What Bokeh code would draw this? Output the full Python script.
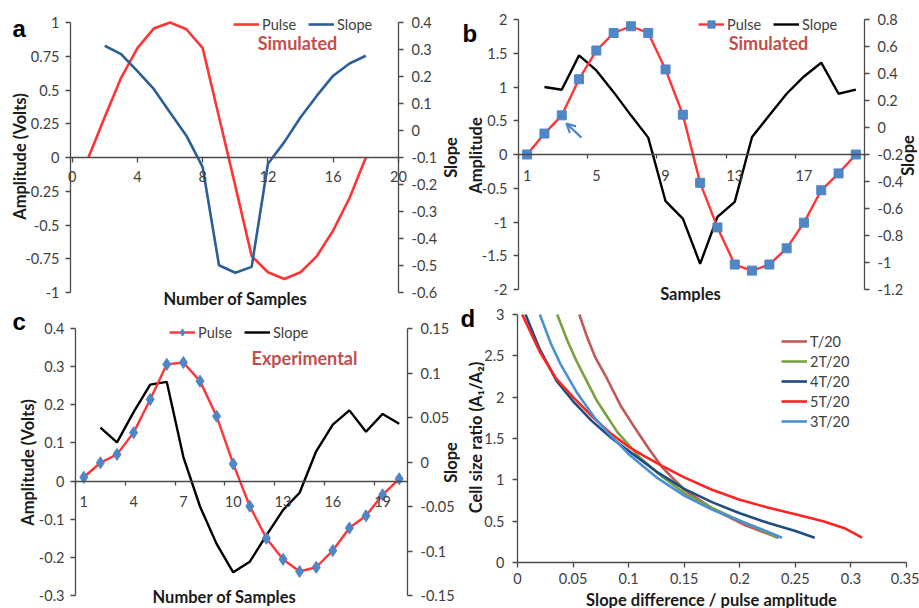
import math
from bokeh.plotting import figure
from bokeh.models import (Range1d, LinearAxis, FixedTicker, Legend, LegendItem,
                          Label, Arrow, OpenHead)
from bokeh.layouts import row, column
from bokeh.embed import file_html
from bokeh.resources import INLINE

# ---------------- data ----------------
# Panel a (simulated)
a_samples = list(range(1, 19))
a_pulse = [0, 0.30, 0.59, 0.81, 0.955, 1.0, 0.95, 0.81, 0.30, -0.21, -0.73, -0.85,
           -0.90, -0.85, -0.73, -0.54, -0.30, 0]
a_slope_samples = list(range(2, 19))
a_slope = [0.314, 0.283, 0.22, 0.154, 0.067, -0.019, -0.136, -0.499, -0.527, -0.505,
           -0.123, -0.043, 0.049, 0.129, 0.203, 0.248, 0.277]
a_xticks = [0, 4, 8, 12, 16, 20]
a_lticks = [-1, -0.75, -0.5, -0.25, 0, 0.25, 0.5, 0.75, 1]
a_llabels = ["-1", "-0.75", "-0.5", "-0.25", "0", "0.25", "0.5", "0.75", "1"]
a_rticks = [-0.6, -0.5, -0.4, -0.3, -0.2, -0.1, 0, 0.1, 0.2, 0.3, 0.4]
a_rlabels = ["-0.6", "-0.5", "-0.4", "-0.3", "-0.2", "-0.1", "0", "0.1", "0.2", "0.3", "0.4"]

# Panel b (simulated, sampled)
b_samples = list(range(1, 21))
b_pulse = [0, 0.31, 0.58, 1.115, 1.54, 1.80, 1.90, 1.80, 1.26, 0.59, -0.42, -1.08,
           -1.63, -1.72, -1.63, -1.39, -1.01, -0.53, -0.28, 0]
b_slope_samples = list(range(2, 21))
b_slope = [0.30, 0.28, 0.534, 0.423, 0.262, 0.09, -0.075, -0.546, -0.675, -1.01,
           -0.662, -0.551, -0.07, 0.09, 0.25, 0.378, 0.48, 0.25, 0.28]
b_xlabels_at = [1, 5, 9, 13, 17]
b_xmarks_at = [0.5, 4.5, 8.5, 12.5, 16.5, 20.5]
b_lticks = [-2, -1.5, -1, -0.5, 0, 0.5, 1, 1.5, 2]
b_llabels = ["-2", "-1.5", "-1", "-0.5", "0", "0.5", "1", "1.5", "2"]
b_rticks = [-1.2, -1.0, -0.8, -0.6, -0.4, -0.2, 0, 0.2, 0.4, 0.6, 0.8]
b_rlabels = ["-1.2", "-1", "-0.8", "-0.6", "-0.4", "-0.2", "0", "0.2", "0.4", "0.6", "0.8"]

# Panel c (experimental)
c_samples = list(range(1, 21))
c_pulse = [0.01, 0.048, 0.07, 0.127, 0.214, 0.306, 0.311, 0.262, 0.17, 0.045, -0.066,
           -0.15, -0.205, -0.237, -0.226, -0.182, -0.123, -0.091, -0.036, 0.006]
c_slope_samples = list(range(2, 21))
c_slope = [0.0386, 0.022, 0.056, 0.087, 0.09, 0.0056, -0.05, -0.092, -0.124, -0.112,
           -0.0825, -0.054, -0.0345, 0.012, 0.042, 0.058, 0.034, 0.054, 0.043]
c_xlabels_at = [1, 4, 7, 10, 13, 16, 19]
c_xmarks_at = [0.5, 3.5, 6.5, 9.5, 12.5, 15.5, 18.5]
c_lticks = [-0.3, -0.2, -0.1, 0, 0.1, 0.2, 0.3, 0.4]
c_llabels = ["-0.3", "-0.2", "-0.1", "0", "0.1", "0.2", "0.3", "0.4"]
c_rticks = [-0.15, -0.1, -0.05, 0, 0.05, 0.1, 0.15]
c_rlabels = ["-0.15", "-0.1", "-0.05", "0", "0.05", "0.1", "0.15"]

# Panel d (cell size ratio vs slope difference / pulse amplitude)
d_names = ["T/20", "2T/20", "4T/20", "5T/20", "3T/20"]
d_t1_x = [0.0556, 0.062, 0.070, 0.0807, 0.0927, 0.106, 0.118, 0.130, 0.150, 0.178, 0.205, 0.235]
d_t1_y = [3.0, 2.75, 2.48, 2.22, 1.90, 1.62, 1.38, 1.154, 0.88, 0.63, 0.45, 0.30]
d_t2_x = [0.0357, 0.045, 0.0537, 0.0717, 0.0897, 0.11, 0.13, 0.15, 0.175, 0.20, 0.22, 0.2337]
d_t2_y = [3.0, 2.68, 2.42, 1.95, 1.58, 1.27, 1.04, 0.84, 0.66, 0.505, 0.39, 0.30]
d_t4_x = [0.0072, 0.02, 0.035, 0.05, 0.067, 0.085, 0.10, 0.125, 0.15, 0.175, 0.20, 0.225, 0.25, 0.2674]
d_t4_y = [3.0, 2.58, 2.20, 1.95, 1.71, 1.50, 1.35, 1.10, 0.89, 0.73, 0.595, 0.48, 0.38, 0.30]
d_t5_x = [0.0042, 0.02, 0.035, 0.05, 0.07, 0.085, 0.10, 0.115, 0.13, 0.15, 0.175, 0.20,
          0.225, 0.25, 0.275, 0.295, 0.31]
d_t5_y = [3.0, 2.55, 2.22, 2.0, 1.73, 1.55, 1.40, 1.28, 1.17, 1.03, 0.88, 0.76, 0.665,
          0.585, 0.50, 0.41, 0.30]
d_t3_x = [0.0201, 0.030, 0.0387, 0.0537, 0.07, 0.0822, 0.10, 0.125, 0.15, 0.175, 0.20, 0.22, 0.238]
d_t3_y = [3.0, 2.65, 2.40, 2.05, 1.74, 1.56, 1.31, 1.03, 0.81, 0.64, 0.505, 0.40, 0.30]
d_xticks = [0, 0.05, 0.1, 0.15, 0.2, 0.25, 0.3, 0.35]
d_xlabels = ["0", "0.05", "0.1", "0.15", "0.2", "0.25", "0.3", "0.35"]
d_yticks = [0, 0.5, 1, 1.5, 2, 2.5, 3]
d_ylabels = ["0", "0.5", "1", "1.5", "2", "2.5", "3"]

# ---------------- styles ----------------
FONT = "Lato"
LETTER_FONT = "Liberation Sans"
AX = "#4a4a4a"
TXT = "#404040"
TITLE = "#1a1a1a"
RED = "#FF3535"
BLUE_A = "#2C5E98"
MARK = "#4F86C6"
SIMC = "#C0504D"
D_COLORS = ["#BF5A57", "#77A23E", "#1F4E7E", "#FF2424", "#4A90D6"]
TICK_SIZE = "14.5px"
AXT_SIZE = "16.5px"
NOTE_SIZE = "18px"


def style_axis(ax, ticks=None, labels=None, minor=None, standoff=6):
    if ticks is not None:
        if minor is not None:
            ax.ticker = FixedTicker(ticks=ticks, minor_ticks=minor)
        else:
            ax.ticker = FixedTicker(ticks=ticks)
    if labels is not None:
        ax.major_label_overrides = {t: l for t, l in zip(ticks, labels)}
    ax.axis_line_color = AX
    ax.axis_line_width = 1.3
    ax.major_tick_line_color = AX
    ax.major_tick_line_width = 1.3
    ax.major_tick_in = 0
    ax.major_tick_out = 5
    if minor is not None:
        ax.minor_tick_line_color = AX
        ax.minor_tick_line_width = 1.3
        ax.minor_tick_in = 0
        ax.minor_tick_out = 4
        ax.major_tick_out = 0
    else:
        ax.minor_tick_line_color = None
    ax.major_label_text_font = FONT
    ax.major_label_text_font_size = TICK_SIZE
    ax.major_label_text_color = TXT
    ax.major_label_standoff = standoff


def make_fig(W, H, box, xd, yd):
    """Figure whose frame fills the canvas; box = plot area (L, T, R, B) in canvas px,
    xd / yd = data values at the plot-area edges."""
    L, T, R, B = box
    sx = (R - L) / (xd[1] - xd[0])
    sy = (B - T) / (yd[1] - yd[0])
    xr = Range1d(xd[0] - L / sx, xd[1] + (W - R) / sx)
    yr = Range1d(yd[0] - (H - B) / sy, yd[1] + T / sy)
    p = figure(width=W, height=H, x_range=xr, y_range=yr, output_backend="svg",
               toolbar_location=None, min_border=0, x_axis_location=None,
               y_axis_location=None)
    p.min_border_left = 0
    p.min_border_right = 0
    p.min_border_top = 0
    p.min_border_bottom = 0
    p.grid.visible = False
    p.outline_line_color = None
    return p


def extra_range(H, box, rd):
    L, T, R, B = box
    sy = (B - T) / (rd[1] - rd[0])
    return Range1d(rd[0] - (H - B) / sy, rd[1] + T / sy)


def canvas_label(p, x, y, text, size, bold=True, color=TITLE, angle=0.0,
                 font=FONT, align="center", baseline="middle"):
    p.add_layout(Label(x=x, y=y, x_units="canvas", y_units="canvas", text=text,
                       text_font=font, text_font_size=size,
                       text_font_style="bold" if bold else "normal", text_color=color,
                       angle=angle, text_align=align, text_baseline=baseline))


def add_legend(p, items, loc, orientation="horizontal", spacing=12):
    p.add_layout(Legend(items=items, location=loc, orientation=orientation,
                        label_text_font=FONT, label_text_font_size="14.5px",
                        label_text_color=TXT, glyph_width=26, glyph_height=18,
                        label_height=18, label_standoff=3, spacing=spacing, padding=0,
                        margin=0, background_fill_alpha=0, border_line_color=None))


def add_axes(p, xd, yd, xticks, xlabels, xminor, lticks, llabels, rd=None, rticks=None,
             rlabels=None, x_at=0.0, x_standoff=8, left_standoff=6, right_standoff=8):
    xa = LinearAxis(fixed_location=x_at, bounds=(xd[0], xd[1]))
    style_axis(xa, xticks, xlabels, minor=xminor, standoff=x_standoff)
    p.add_layout(xa, "below")
    ya = LinearAxis(fixed_location=xd[0], bounds=(yd[0], yd[1]))
    style_axis(ya, lticks, llabels, standoff=left_standoff)
    p.add_layout(ya, "left")
    if rd is not None:
        ra = LinearAxis(fixed_location=xd[1], bounds=(rd[0], rd[1]), y_range_name="slope")
        style_axis(ra, rticks, rlabels, standoff=right_standoff)
        p.add_layout(ra, "right")


# ---------------- panel a ----------------
A_W, A_H, A_BOX = 460, 308, (70, 22, 398, 292)
a_xd, a_yd, a_rd = (-0.1, 20), (-1, 1), (-0.6, 0.4)
pa = make_fig(A_W, A_H, A_BOX, a_xd, a_yd)
pa.extra_y_ranges = {"slope": extra_range(A_H, A_BOX, a_rd)}
add_axes(pa, a_xd, a_yd, a_xticks, None, None, a_lticks, a_llabels, a_rd, a_rticks,
         a_rlabels, x_standoff=8)
la_p = pa.line(a_samples, a_pulse, line_color=RED, line_width=2.6)
la_s = pa.line(a_slope_samples, a_slope, line_color=BLUE_A, line_width=2.6,
               y_range_name="slope")
add_legend(pa, [LegendItem(label="Pulse", renderers=[la_p]),
                LegendItem(label="Slope", renderers=[la_s])], (233, A_H - 33))
canvas_label(pa, 12, 28, "a", "24px", font=LETTER_FONT, align="left",
             baseline="alphabetic", color="#000000")
canvas_label(pa, 297, 42, "Simulated", NOTE_SIZE, color=SIMC)
canvas_label(pa, 235, 298, "Number of Samples", AXT_SIZE)
canvas_label(pa, 19, 156, "Amplitude (Volts)", AXT_SIZE, angle=math.pi / 2)
canvas_label(pa, 450, 157, "Slope", AXT_SIZE, angle=math.pi / 2)

# ---------------- panel b ----------------
B_W, B_H, B_BOX = 459, 302, (58, 19, 404, 289)
b_xd, b_yd, b_rd = (0.5, 20.5), (-2, 2), (-1.2, 0.8)
pb = make_fig(B_W, B_H, B_BOX, b_xd, b_yd)
pb.extra_y_ranges = {"slope": extra_range(B_H, B_BOX, b_rd)}
add_axes(pb, b_xd, b_yd, b_xlabels_at, None, b_xmarks_at, b_lticks, b_llabels, b_rd,
         b_rticks, b_rlabels, x_standoff=11)
lb_s = pb.line(b_slope_samples, b_slope, line_color="#000000", line_width=2.4,
               y_range_name="slope")
lb_p = pb.line(b_samples, b_pulse, line_color=RED, line_width=2.4)
sb_p = pb.scatter(b_samples, b_pulse, marker="square", size=9, fill_color=MARK,
                  line_color=MARK)
add_legend(pb, [LegendItem(label="Pulse", renderers=[lb_p, sb_p]),
                LegendItem(label="Slope", renderers=[lb_s])], (238, B_H - 33))
arrow_tail = (4.14, 0.25)
arrow_head = (3.27, 0.46)
pb.add_layout(Arrow(x_start=arrow_tail[0], y_start=arrow_tail[1], x_end=arrow_head[0],
                    y_end=arrow_head[1], line_color=MARK, line_width=2.2,
                    end=OpenHead(size=9, line_color=MARK, line_width=2.2)))
canvas_label(pb, 2, 33, "b", "24px", font=LETTER_FONT, align="left",
             baseline="alphabetic", color="#000000")
canvas_label(pb, 308, 42, "Simulated", NOTE_SIZE, color=SIMC)
canvas_label(pb, 230, 293, "Samples", AXT_SIZE)
canvas_label(pb, 15, 155, "Amplitude", AXT_SIZE, angle=math.pi / 2)
canvas_label(pb, 447, 155, "Slope", AXT_SIZE, angle=math.pi / 2)

# ---------------- panel c ----------------
C_W, C_H, C_BOX = 460, 300, (75, 20, 407, 287)
c_xd, c_yd, c_rd = (0.5, 20.5), (-0.3, 0.4), (-0.15, 0.15)
pc = make_fig(C_W, C_H, C_BOX, c_xd, c_yd)
pc.extra_y_ranges = {"slope": extra_range(C_H, C_BOX, c_rd)}
add_axes(pc, c_xd, c_yd, c_xlabels_at, None, c_xmarks_at, c_lticks, c_llabels, c_rd,
         c_rticks, c_rlabels, x_standoff=11)
lc_s = pc.line(c_slope_samples, c_slope, line_color="#000000", line_width=2.4,
               y_range_name="slope")
lc_p = pc.line(c_samples, c_pulse, line_color=RED, line_width=2.4)
sc_p = pc.scatter(c_samples, c_pulse, marker="diamond", size=12, fill_color=MARK,
                  line_color=MARK)
add_legend(pc, [LegendItem(label="Pulse", renderers=[lc_p, sc_p]),
                LegendItem(label="Slope", renderers=[lc_s])], (169, C_H - 33))
canvas_label(pc, 12, 13, "c", "24px", font=LETTER_FONT, align="left",
             baseline="alphabetic", color="#000000")
canvas_label(pc, 304, 49, "Experimental", NOTE_SIZE, color=SIMC)
canvas_label(pc, 224, 288, "Number of Samples", AXT_SIZE)
canvas_label(pc, 27, 154, "Amplitude (Volts)", AXT_SIZE, angle=math.pi / 2)
canvas_label(pc, 450, 154, "Slope", AXT_SIZE, angle=math.pi / 2)

# ---------------- panel d ----------------
D_W, D_H, D_BOX = 459, 306, (57, 12, 446, 260)
d_xd, d_yd = (0, 0.35), (0, 3)
pd_ = make_fig(D_W, D_H, D_BOX, d_xd, d_yd)
add_axes(pd_, d_xd, d_yd, d_xticks, d_xlabels, None, d_yticks, d_ylabels,
         x_standoff=5, left_standoff=8)
d_series = [(d_t1_x, d_t1_y), (d_t2_x, d_t2_y), (d_t4_x, d_t4_y), (d_t5_x, d_t5_y),
            (d_t3_x, d_t3_y)]
d_items = []
for name, (xs, ys), col in zip(d_names, d_series, D_COLORS):
    r = pd_.line(xs, ys, line_color=col, line_width=2.6)
    d_items.append(LegendItem(label=name, renderers=[r]))
add_legend(pd_, d_items, (321, D_H - 128), orientation="vertical", spacing=2)
canvas_label(pd_, 0, 16, "d", "24px", font=LETTER_FONT, align="left",
             baseline="alphabetic", color="#000000")
canvas_label(pd_, 251, 297, "Slope difference / pulse amplitude", AXT_SIZE)
canvas_label(pd_, 15, 135, "Cell size ratio (A\u2081/A\u2082)", AXT_SIZE, angle=math.pi / 2)

layout = row(column(pa, pc), column(pb, pd_))
open("out.html", "w").write(file_html(layout, INLINE))
